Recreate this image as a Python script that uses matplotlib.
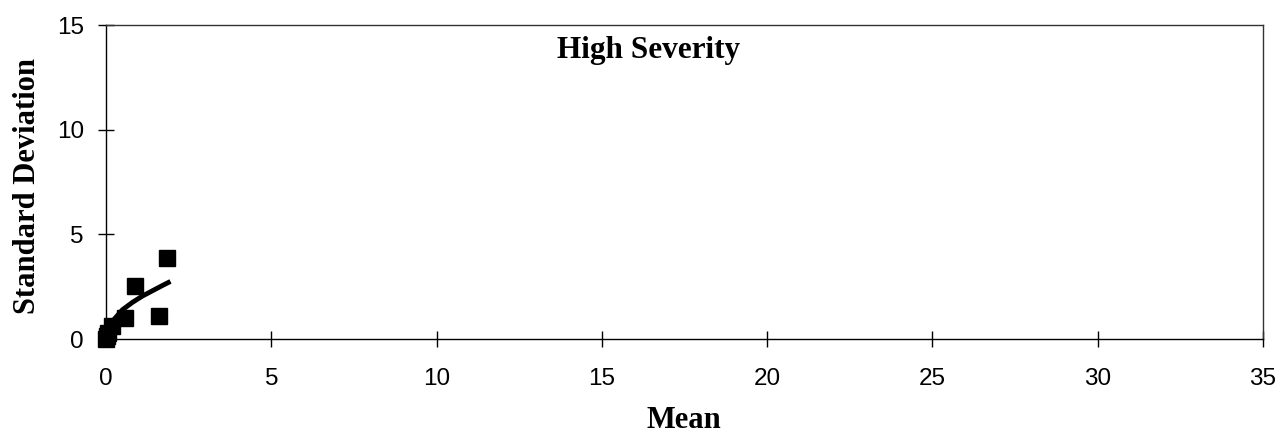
import matplotlib.pyplot as plt
import numpy as np

# scatter points (mean, standard deviation)
mean_vals = [0.0, 0.02, 0.05, 0.17, 0.57, 0.88, 1.60, 1.84]
sd_vals = [0.0, 0.15, 0.3, 0.6, 1.0, 2.55, 1.1, 3.85]

# fitted trend line
trend_x = [0.02, 0.1, 0.25, 0.5, 0.8, 1.1, 1.4, 1.7, 1.95]
trend_y = [0.35, 0.65, 0.95, 1.4, 1.75, 2.05, 2.3, 2.55, 2.75]

x_ticks = [0, 5, 10, 15, 20, 25, 30, 35]
y_ticks = [0, 5, 10, 15]

serif = ["Liberation Serif", "DejaVu Serif"]
sans = ["Liberation Sans", "DejaVu Sans"]

W, H = 1287, 438
fig = plt.figure(figsize=(W / 100, H / 100), dpi=100)
ax = fig.add_axes([106 / W, 1 - 339 / H, (1263 - 106) / W, (339 - 25) / H])

ax.plot(trend_x, trend_y, color="black", linewidth=3.5, solid_capstyle="butt", zorder=2)
ax.plot(mean_vals, sd_vals, linestyle="none", marker="s", markersize=11,
        color="black", zorder=3, clip_on=False)

ax.set_xlim(0, 35)
ax.set_ylim(0, 15)
ax.set_xticks(x_ticks)
ax.set_yticks(y_ticks)
ax.tick_params(direction="inout", length=12, width=1, labelsize=17.5)
ax.tick_params(axis="x", pad=15)
ax.tick_params(axis="y", pad=10)
for lbl in ax.get_xticklabels() + ax.get_yticklabels():
    lbl.set_family(sans)

for side in ["top", "right"]:
    ax.spines[side].set_linewidth(1.0)
    ax.spines[side].set_color("#333333")
for side in ["left", "bottom"]:
    ax.spines[side].set_linewidth(1.0)

fig.text(684 / W, 1 - 428 / H, "Mean", family=serif, fontsize=22, fontweight="bold",
         ha="center", va="baseline")
fig.text(28 / W, 1 - 186 / H, "Standard Deviation", family=serif, fontsize=22,
         fontweight="bold", rotation=90, ha="center", va="center")
ax.text(16.4, 13.43, "High Severity", family=serif, fontsize=22.5, fontweight="bold",
        ha="center", va="baseline")

fig.savefig("out.png", dpi=100)
